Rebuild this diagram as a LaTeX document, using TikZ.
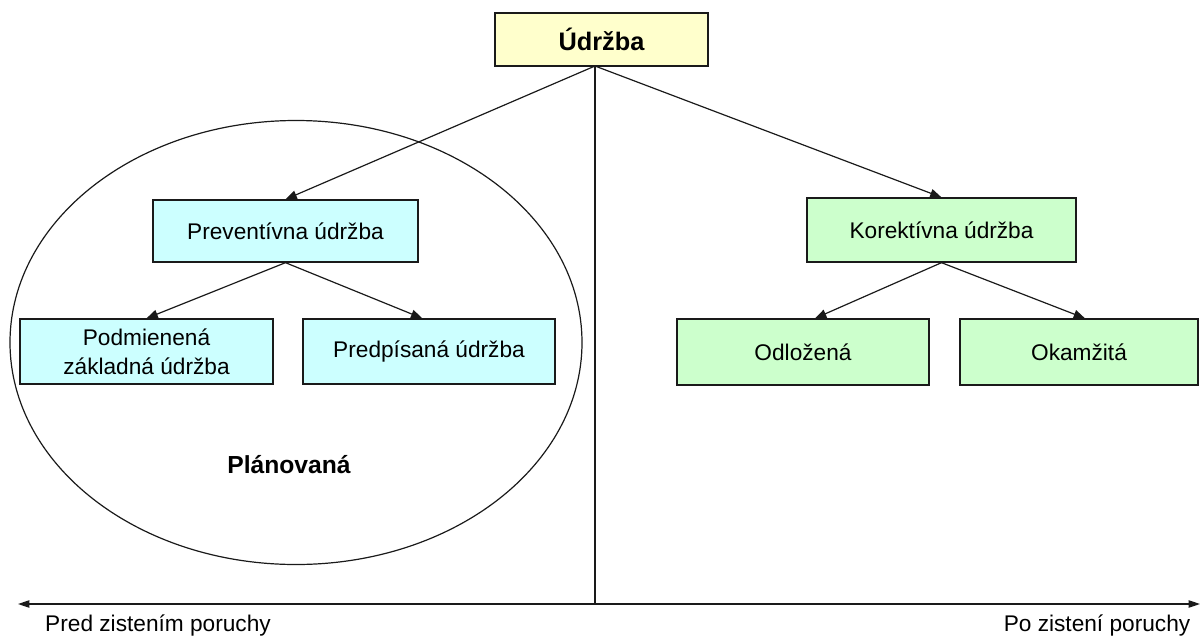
\documentclass[tikz,border=0pt]{standalone}
\usepackage{fontspec}
\setmainfont{Liberation Sans}
\usetikzlibrary{arrows.meta,shapes.geometric,calc}
\definecolor{rootfill}{HTML}{FFFFCC}
\definecolor{prevfill}{HTML}{CCFFFF}
\definecolor{korfill}{HTML}{CCFFCC}
\definecolor{inkline}{HTML}{1A1A1A}
\tikzset{
  box/.style={draw=inkline, line width=1pt, rectangle, inner sep=0pt, align=center,
    font=\fontsize{17pt}{22pt}\selectfont},
  link/.style={draw=inkline, line width=0.9pt, -{Triangle[length=8.5pt,width=6.5pt]}},
  axis/.style={draw=inkline, line width=0.9pt},
  lbl/.style={inner sep=0pt, font=\fontsize{17pt}{20pt}\selectfont},
}
\begin{document}
\begin{tikzpicture}[x=0.75pt,y=-0.75pt]
\useasboundingbox (0,0) rectangle (1200,636);

% planned-maintenance group
\node[draw=inkline, line width=0.9pt, ellipse, minimum width=429pt, minimum height=333pt, inner sep=0pt]
  (plan) at (296,342.5) {};
\node[inner sep=0pt, font=\fontsize{18.5pt}{20pt}\selectfont\bfseries] (plantxt) at (289,465) {Plánovaná};

% tree boxes
\node[box, fill=rootfill, minimum width=159.75pt, minimum height=39.75pt,
      font=\fontsize{19pt}{22pt}\selectfont\bfseries] (udr) at (601.5,39.5) {Údržba};
\node[box, fill=prevfill, minimum width=198.75pt, minimum height=46.5pt] (prev) at (285.5,231) {Preventívna údržba};
\node[box, fill=prevfill, minimum width=189.75pt, minimum height=48.75pt] (podm) at (146.5,351.5) {Podmienená\\základná údržba};
\node[box, fill=prevfill, minimum width=189pt, minimum height=48.75pt] (pred) at (429,351.5) {Predpísaná údržba};
\node[box, fill=korfill, minimum width=201.75pt, minimum height=48pt] (kor) at (941.5,230) {Korektívna údržba};
\node[box, fill=korfill, minimum width=189pt, minimum height=49.5pt] (odl) at (803,352) {Odložená};
\node[box, fill=korfill, minimum width=178.5pt, minimum height=49.5pt] (oka) at (1079,352) {Okamžitá};

% time axis
\coordinate (root) at (595,66);
\coordinate (axL) at (18,604);
\coordinate (axM) at (595,604);
\coordinate (axR) at (1200,604);
\draw[axis] (root) -- (axM);
\draw[axis, {Triangle[length=8.5pt,width=5.5pt]}-{Triangle[length=8.5pt,width=5.5pt]}] (axL) -- (axR);
\node[lbl] (before) at (158,625) {Pred zistením poruchy};
\node[lbl] (after) at (1097,625) {Po zistení poruchy};

% connectors
\draw[link] (root) -- (prev.north);
\draw[link] (root) -- (kor.north);
\draw[link] (prev.south) -- (podm.north);
\draw[link] (prev.south) -- ([xshift=-5pt]pred.north);
\draw[link] (kor.south) -- ([xshift=9pt]odl.north);
\draw[link] (kor.south) -- ([xshift=4.5pt]oka.north);
\end{tikzpicture}
\end{document}
